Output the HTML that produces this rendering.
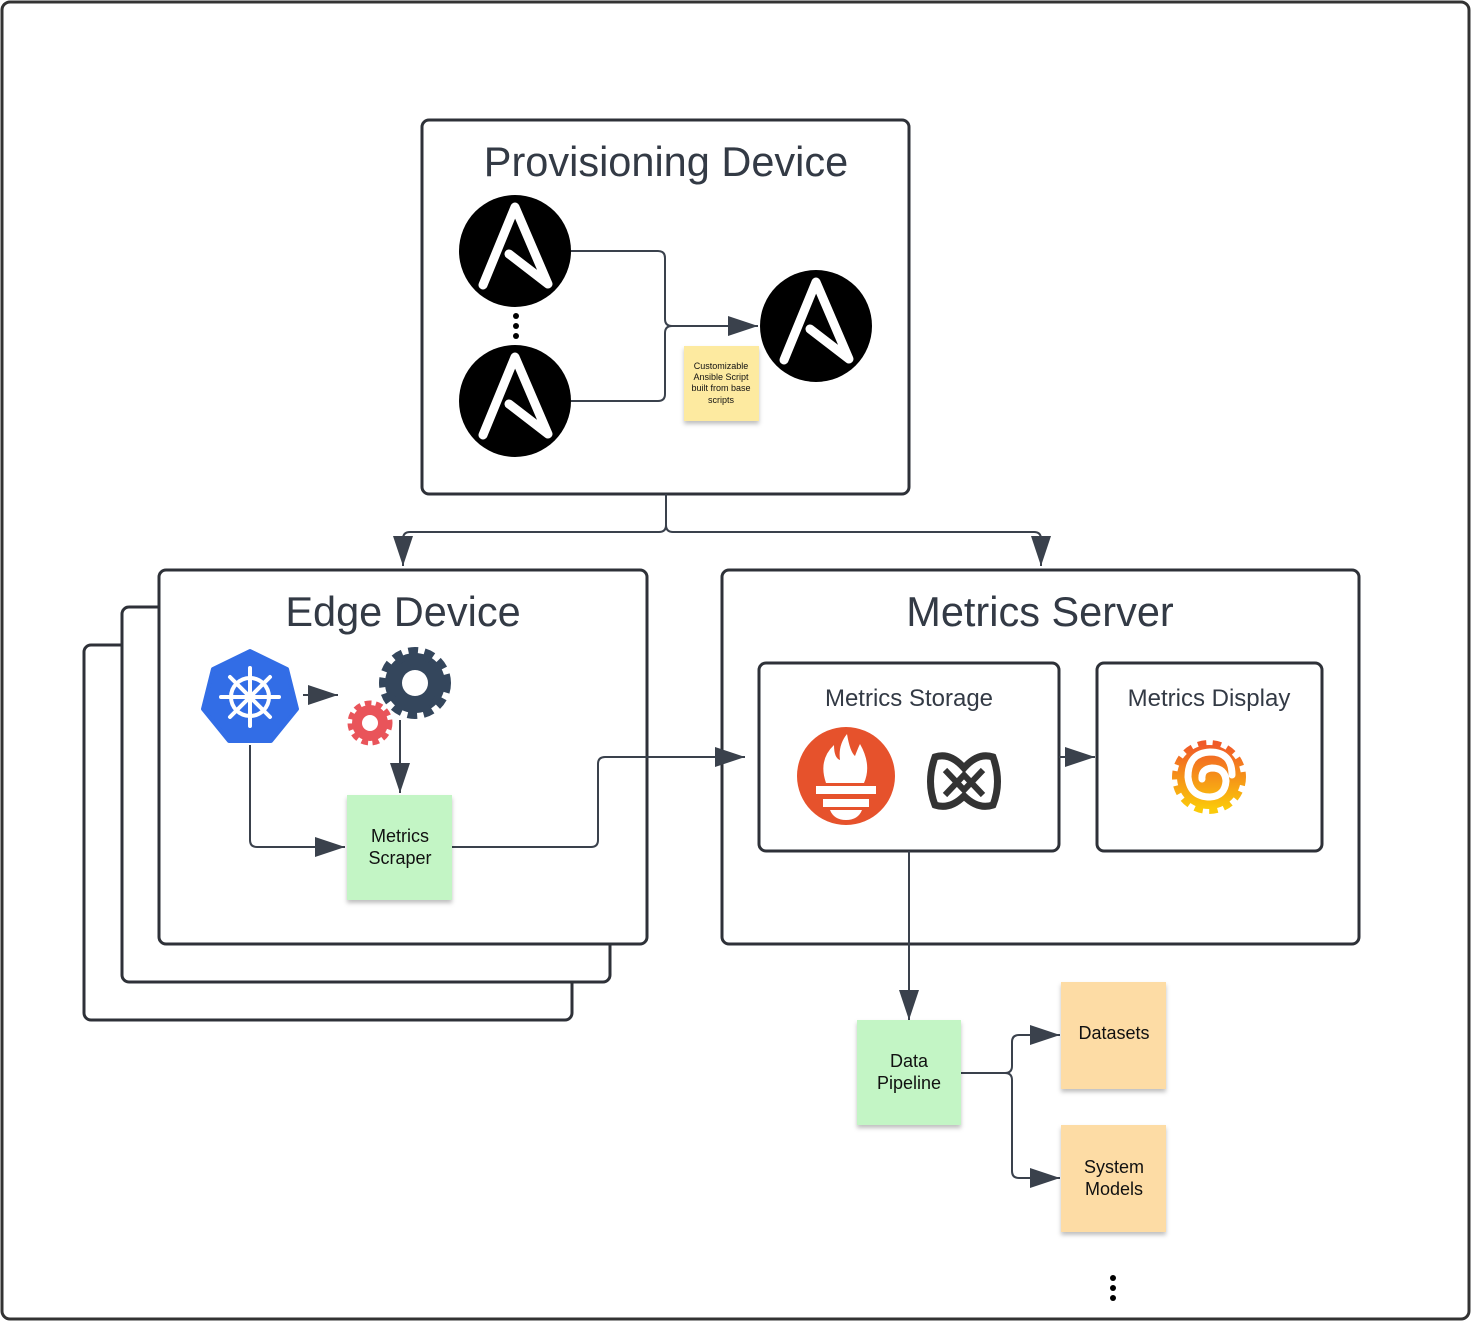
<!DOCTYPE html>
<html><head><meta charset="utf-8"><style>body{margin:0;background:#fff}svg{display:block}</style></head><body>
<svg width="1472" height="1322" viewBox="0 0 1472 1322" xmlns="http://www.w3.org/2000/svg" font-family="Liberation Sans, sans-serif">
<defs>
<marker id="ab" viewBox="0 0 10 10" refX="10" refY="5" markerWidth="30" markerHeight="20" markerUnits="userSpaceOnUse" orient="auto" preserveAspectRatio="none"><path d="M0,0 L10,5 L0,10z" fill="#3a414c"/></marker>
<g id="ans"><circle r="56" fill="#000"/><polyline points="-32,34 0,-44 33,33 -6,3" fill="none" stroke="#fff" stroke-width="9" stroke-linejoin="round" stroke-linecap="round"/></g>
<filter id="sh" x="-10%" y="-10%" width="130%" height="130%"><feDropShadow dx="0" dy="3" stdDeviation="2" flood-opacity="0.25"/></filter>
</defs>
<rect x="2" y="2" width="1467" height="1317" rx="8" fill="#fff" stroke="#333" stroke-width="3"/>
<g fill="none" stroke="#2e3138" stroke-width="3">
<rect x="422" y="120" width="487" height="374" rx="7"/>
<rect x="84" y="645" width="488" height="375" rx="7" fill="#fff"/>
<rect x="122" y="607" width="488" height="375" rx="7" fill="#fff"/>
<rect x="159" y="570" width="488" height="374" rx="7" fill="#fff"/>
<rect x="722" y="570" width="637" height="374" rx="7"/>
<rect x="759" y="663" width="300" height="188" rx="7"/>
<rect x="1097" y="663" width="225" height="188" rx="7"/>
</g>
<g fill="#333a45" text-anchor="middle">
<text x="666" y="176" font-size="41.5">Provisioning Device</text>
<text x="403" y="626" font-size="41.5">Edge Device</text>
<text x="1040" y="626" font-size="41.5">Metrics Server</text>
<text x="909" y="706" font-size="24">Metrics Storage</text>
<text x="1209" y="706" font-size="24">Metrics Display</text>
</g>
<use href="#ans" x="515" y="251"/><use href="#ans" x="515" y="401"/><use href="#ans" x="816" y="326"/>
<g fill="#000"><circle cx="516" cy="316" r="3"/><circle cx="516" cy="326" r="3"/><circle cx="516" cy="336" r="3"/>
<circle cx="1113" cy="1278" r="3"/><circle cx="1113" cy="1288" r="3"/><circle cx="1113" cy="1298" r="3"/></g>
<g fill="none" stroke="#3a414c" stroke-width="2">
<path d="M571,251 H658 Q665,251 665,258 V319 Q665,326 672,326 H758" marker-end="url(#ab)"/>
<path d="M571,401 H658 Q665,401 665,394 V333 Q665,326 672,326"/>
<path d="M666,494 V525 Q666,532 659,532 H410 Q403,532 403,539 V566" marker-end="url(#ab)"/>
<path d="M666,525 Q666,532 673,532 H1034 Q1041,532 1041,539 V566" marker-end="url(#ab)"/>
<path d="M303,695 H338" marker-end="url(#ab)"/>
<path d="M400,720 V793" marker-end="url(#ab)"/>
<path d="M250,745 V840 Q250,847 257,847 H345" marker-end="url(#ab)"/>
<path d="M452,847 H591 Q598,847 598,840 V764 Q598,757 605,757 H745" marker-end="url(#ab)"/>
<path d="M1059,757 H1095" marker-end="url(#ab)"/>
<path d="M909,851 V1020" marker-end="url(#ab)"/>
<path d="M961,1073 H1005 Q1012,1073 1012,1066 V1042 Q1012,1035 1019,1035 H1060" marker-end="url(#ab)"/>
<path d="M1005,1073 Q1012,1073 1012,1080 V1171 Q1012,1178 1019,1178 H1060" marker-end="url(#ab)"/>
</g>
<g filter="url(#sh)">
<rect x="684" y="346" width="75" height="75" fill="#fdeaa0"/>
<rect x="347" y="795" width="105" height="105" fill="#c3f5c5"/>
<rect x="857" y="1020" width="104" height="105" fill="#c3f5c5"/>
<rect x="1061" y="982" width="105" height="107" fill="#fddca5"/>
<rect x="1061" y="1125" width="105" height="107" fill="#fddca5"/>
</g>
<g text-anchor="middle" fill="#111">
<text font-size="9" x="721" y="369">Customizable</text><text font-size="9" x="721" y="380">Ansible Script</text><text font-size="9" x="721" y="391">built from base</text><text font-size="9" x="721" y="403">scripts</text>
<text font-size="18" x="400" y="842">Metrics</text><text font-size="18" x="400" y="864">Scraper</text>
<text font-size="18" x="909" y="1067">Data</text><text font-size="18" x="909" y="1089">Pipeline</text>
<text font-size="18" x="1114" y="1039">Datasets</text>
<text font-size="18" x="1114" y="1173">System</text><text font-size="18" x="1114" y="1195">Models</text>
</g>
<polygon points="250,651 287,669 297,709 271,741 229,741 203,709 213,669" fill="#326de6" stroke="#326de6" stroke-width="4" stroke-linejoin="round"/>
<g stroke="#fff" stroke-width="4" fill="none" stroke-linecap="round"><circle cx="250" cy="697" r="19"/>
<path d="M250,668V726M221,697H279M230,677L270,717M270,677L230,717"/></g>
<circle cx="415" cy="683" r="30" fill="#34465c" stroke="#34465c" stroke-width="12" stroke-dasharray="9 6"/><circle cx="415" cy="683" r="13" fill="#fff"/>
<circle cx="370" cy="723" r="18" fill="#e9545a" stroke="#e9545a" stroke-width="9" stroke-dasharray="6 4"/><circle cx="370" cy="723" r="8" fill="#fff"/>
<circle cx="846" cy="776" r="49" fill="#e6522c"/>
<path d="M826,783 Q818,760 834,745 Q834,758 840,760 Q838,745 847,734 Q850,752 855,756 Q858,748 860,744 Q872,765 864,783z" fill="#fff"/>
<rect x="816" y="786" width="60" height="8" fill="#fff"/><rect x="823" y="799" width="46" height="8" fill="#fff"/>
<path d="M830,810 H862 Q858,820 846,820 Q834,820 830,810z" fill="#fff"/>
<path d="M935,757 Q950,752 964,768 Q978,752 993,757 Q1002,782 993,805 Q978,810 964,796 Q950,810 935,805 Q926,782 935,757z" fill="none" stroke="#333" stroke-width="7"/>
<path d="M945,770 L964,790 L983,770 M945,795 L964,775 L983,795" fill="none" stroke="#333" stroke-width="6"/>
<defs><linearGradient id="gf" x1="0" y1="0" x2="0" y2="1"><stop offset="0" stop-color="#f05a28"/><stop offset="1" stop-color="#fbca0a"/></linearGradient></defs>
<circle cx="1209" cy="777" r="32" fill="url(#gf)" stroke="url(#gf)" stroke-width="10" stroke-dasharray="8 6"/>
<path d="M1232,775 Q1232,752 1210,752 Q1188,753 1188,777 Q1190,797 1210,797 Q1225,796 1226,781 Q1225,768 1212,768 Q1201,769 1202,779" fill="none" stroke="#fff" stroke-width="7" stroke-linecap="round"/>
</svg>
</body></html>
